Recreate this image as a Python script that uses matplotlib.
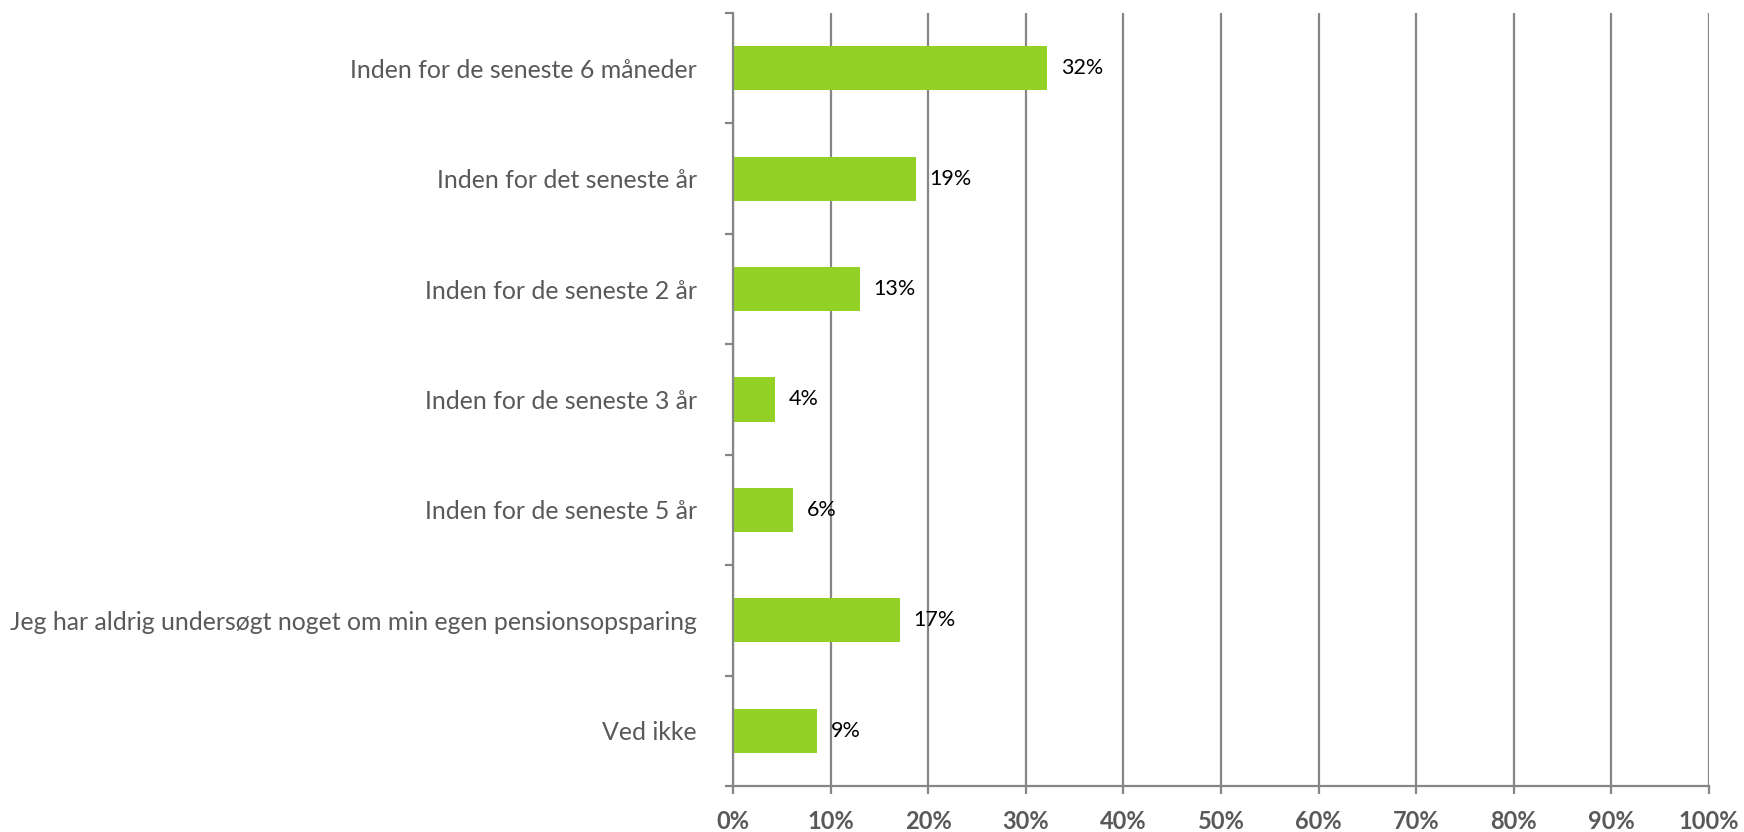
import numpy as np
import matplotlib
matplotlib.use("Agg")
import matplotlib.pyplot as plt
from matplotlib.ticker import FixedLocator, PercentFormatter

# survey answers, top to bottom
categories = [
    "Inden for de seneste 6 måneder",
    "Inden for det seneste år",
    "Inden for de seneste 2 år",
    "Inden for de seneste 3 år",
    "Inden for de seneste 5 år",
    "Jeg har aldrig undersøgt noget om min egen pensionsopsparing",
    "Ved ikke",
]
shares = [32.2, 18.7, 13.0, 4.3, 6.1, 17.1, 8.6]
value_labels = ["32%", "19%", "13%", "4%", "6%", "17%", "9%"]
x_ticks = list(range(0, 101, 10))

plt.rcParams['font.family'] = ['Lato', 'DejaVu Sans']

fig = plt.figure(figsize=(17.44, 8.32), dpi=100)
ax = fig.add_axes([0.4203, 0.0553, 0.9799 - 0.4203, 0.9844 - 0.0553])

pos = np.arange(len(categories))
ax.barh(pos, shares, height=0.4, color='#93d126', zorder=3)

for p, v, lab in zip(pos, shares, value_labels):
    ax.annotate(lab, (v, p), xytext=(10, 0), textcoords='offset points',
                va='center', ha='left', fontsize=15.5, color='black')

ax.set_xlim(0, 100)
ax.set_ylim(len(categories) - 0.5, -0.5)

grid_c = '#868686'
ax.set_xticks(x_ticks)
ax.xaxis.set_major_formatter(PercentFormatter(decimals=0))
ax.grid(axis='x', color=grid_c, linewidth=1.6, zorder=0)
for lab in ax.get_xticklabels():
    lab.set_fontweight('bold')
ax.tick_params(axis='x', length=6, width=1.6, color=grid_c, labelsize=17,
               labelcolor='#595959', pad=11)

# ticks on category boundaries, labels at centres
ax.yaxis.set_major_locator(FixedLocator(np.arange(-0.5, len(categories), 1.0)))
ax.yaxis.set_major_formatter(plt.NullFormatter())
ax.yaxis.set_minor_locator(FixedLocator(pos))
ax.set_yticklabels(categories, minor=True)
ax.tick_params(axis='y', which='major', length=6, width=1.6, color=grid_c)
ax.tick_params(axis='y', which='minor', length=0, labelsize=17.9,
               labelcolor='#595959', pad=26)

for s in ['top', 'right']:
    ax.spines[s].set_visible(False)
for s in ['left', 'bottom']:
    ax.spines[s].set_color(grid_c)
    ax.spines[s].set_linewidth(1.6)
    ax.spines[s].set_zorder(4)

fig.savefig('out.png', dpi=100)
